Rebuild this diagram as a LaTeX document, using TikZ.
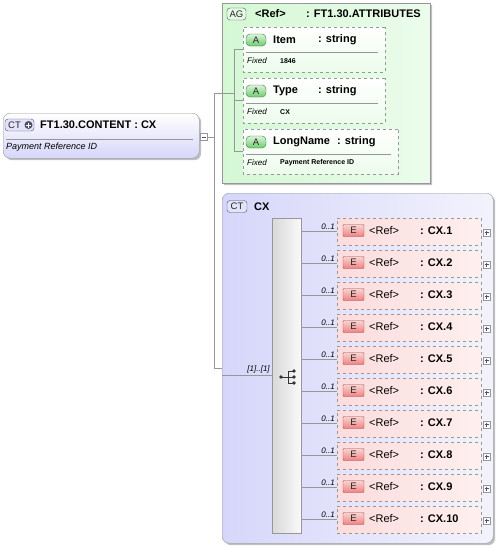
\documentclass[tikz,border=0pt]{standalone}
\usepackage{fontspec}
\setmainfont{Liberation Sans}
\usetikzlibrary{shapes.misc,shadows,calc}

\definecolor{lineclr}{RGB}{150,150,155}
\definecolor{ctclr}{RGB}{214,214,250}
\definecolor{agclr}{RGB}{212,248,212}
\definecolor{eclr}{RGB}{252,220,220}
\definecolor{ebadge}{RGB}{238,130,130}
\definecolor{abadge}{RGB}{110,205,110}
\definecolor{badgeln}{RGB}{80,80,100}

\tikzset{
	conn/.style={draw=lineclr, line width=0.6pt},
	boxshadow/.style={drop shadow={shadow xshift=2pt, shadow yshift=-2pt, fill=black, opacity=0.25}},
	mainbox/.style={draw=lineclr, rounded corners=7pt, top color=white, bottom color=ctclr, anchor=north west, inner sep=0pt, boxshadow},
	ctbox/.style={draw=lineclr, rounded corners=7pt, left color=ctclr, right color=ctclr!30, anchor=north west, inner sep=0pt, boxshadow},
	agbox/.style={chamfered rectangle, chamfered rectangle corners={north west,south west}, chamfered rectangle xsep=6pt, chamfered rectangle ysep=6pt, draw=lineclr, left color=agclr, right color=agclr!45, anchor=north west, inner sep=0pt, boxshadow},
	attrbox/.style={chamfered rectangle, chamfered rectangle corners={north west,south west}, chamfered rectangle xsep=5pt, chamfered rectangle ysep=5pt, draw=lineclr, dashed, top color=white, bottom color=agclr!45, anchor=north west, inner sep=0pt},
	elbox/.style={draw=lineclr, dashed, left color=eclr, right color=eclr!45, anchor=north west, inner sep=0pt},
	seqbar/.style={draw=lineclr, left color=gray!30, right color=gray!4, anchor=north west, inner sep=0pt},
	badge/.style={draw=badgeln, rounded corners=3pt, inner sep=0pt, minimum height=12pt, font=\fontsize{9.5}{10}\selectfont, text=black!85},
	abadge/.style={badge, draw={rgb,255:red,60;green,125;blue,60}, top color=abadge!25, bottom color=abadge, minimum width=20pt, rounded corners=4pt},
	ebadge/.style={badge, draw={rgb,255:red,165;green,75;blue,75}, top color=ebadge!35, bottom color=ebadge, minimum width=21pt, rounded corners=1pt},
	tbox/.style={draw=lineclr, fill=white, minimum size=7pt, inner sep=0pt},
	ttl/.style={anchor=west, inner sep=0pt, font=\fontsize{11}{12}\selectfont\bfseries},
	reftext/.style={anchor=west, inner sep=0pt, font=\fontsize{11}{12}\selectfont},
	desctext/.style={anchor=west, inner sep=0pt, font=\fontsize{9}{10}\selectfont\itshape},
	fixedtext/.style={anchor=west, inner sep=0pt, font=\fontsize{8}{9}\selectfont\itshape},
	valtext/.style={anchor=west, inner sep=0pt, font=\fontsize{7}{8}\selectfont\bfseries},
	occ/.style={anchor=south east, inner sep=2pt, font=\fontsize{8}{9}\selectfont\itshape},
}

\begin{document}
\begin{tikzpicture}[x=1pt,y=-1pt]
	\useasboundingbox (0,0) rectangle (498,549);
	
	% content element
	\node[mainbox, minimum width=196pt, minimum height=45pt] (content) at (3,113) {};
	\node[badge, fill=ctclr!70, minimum width=29pt] (contentct) at (19.5,125) {};
	\node[inner sep=0pt, font=\fontsize{9.5}{10}\selectfont, text=black!85] (contentctlbl) at (14.5,125) {CT};
	\node[circle, fill=badgeln, minimum size=8pt, inner sep=0pt] (contentplus) at (28.5,125) {};
	\draw[white, line width=1pt] ($(contentplus)+(-2.5,0)$) -- ($(contentplus)+(2.5,0)$) ($(contentplus)+(0,-2.5)$) -- ($(contentplus)+(0,2.5)$);
	\node[ttl] (contentname) at (40,125) {FT1.30.CONTENT : CX};
	\draw[lineclr] ($(content.north west)+(3,26)$) -- ($(content.north east)+(-6,26)$);
	\node[desctext] (contentdesc) at (6,147) {Payment Reference ID};
	\node[tbox] (contentminus) at (203.5,137) {};
	\draw[badgeln] ($(contentminus)+(-2,0)$) -- ($(contentminus)+(2,0)$);
	
	% attribute group
	\node[agbox, minimum width=208pt, minimum height=180pt] (attrs) at (222,3) {};
	\node[badge, fill=agclr!60, minimum width=19pt] (attrsag) at (236.5,14) {AG};
	\node[ttl] (attrsref) at (255,14) {<Ref>};
	\node[ttl] (attrsname) at (306,14) {: FT1.30.ATTRIBUTES};
	\foreach \aname/\ay/\aw/\ax/\aval [count=\i] in {Item/27/142/318/1846, Type/78/142/318/CX, LongName/129/155/337/Payment Reference ID}
	{
		\node[attrbox, minimum width=\aw pt, minimum height=45pt] (attr\i) at (243,\ay) {};
		\node[abadge] (attr\i a) at (256,\ay+13) {A};
		\node[ttl] (attr\i name) at (273,\ay+13) {\aname};
		\node[ttl] (attr\i type) at (\ax,\ay+13) {: string};
		\draw[lineclr] (246,\ay+25) -- (\aw+236,\ay+25);
		\node[fixedtext] (attr\i fixed) at (247,\ay+34) {Fixed};
		\node[valtext] (attr\i val) at (280,\ay+34) {\aval};
	}
	
	% complex type
	\node[ctbox, minimum width=271pt, minimum height=350pt] (ctcx) at (222,193) {};
	\node[badge, fill=ctclr!70, minimum width=20pt] (ctcxct) at (237,206.5) {CT};
	\node[ttl] (ctcxname) at (254,206.5) {CX};
	
	% sequence
	\node[seqbar, minimum width=29pt, minimum height=315pt] (seq) at (272,218) {};
	\fill[black!80] (281,377) circle[radius=1.8] (294,371) circle[radius=1.8] (294,377) circle[radius=1.8] (294,383) circle[radius=1.8];
	\draw[black!80, line width=0.8pt] (281,377) -- (288,377) (288,371) -- (288,383) (288,371) -- (294,371) (288,383) -- (294,383) (288,377) -- (294,377);
	
	% elements
	\foreach \i in {1,...,10}
	{
		\node[elbox, minimum width=144pt, minimum height=27pt] (el\i) at (337,186+32*\i) {};
		\node[ebadge] (el\i e) at (353.5,198.5+32*\i) {E};
		\node[reftext] (el\i ref) at (369,198.5+32*\i) {<Ref>};
		\node[ttl] (el\i name) at (420,198.5+32*\i) {: CX.\i};
		\node[tbox] (el\i plus) at (486.5,200.5+32*\i) {};
		\draw[badgeln] ($(el\i plus)+(-2,0)$) -- ($(el\i plus)+(2,0)$) ($(el\i plus)+(0,-2)$) -- ($(el\i plus)+(0,2)$);
		\draw[conn] (seq.east |- el\i.west) -- node[occ, pos=1] (el\i occ) {0..1} (el\i.west);
	}
	
	% connectors
	\coordinate (fork) at (214,137);
	\coordinate (attrfork) at (234,94);
	\draw[conn] (contentminus.east) -- (fork);
	\draw[conn] (fork |- attrs.west) -- (fork |- ctcx.west);
	\draw[conn] (fork |- attrs.west) -- (attrfork |- attrs.west);
	\draw[conn] (attrfork |- attr1.west) -- (attrfork |- attr3.west);
	\foreach \i in {1,2,3}
		\draw[conn] (attrfork |- attr\i.west) -- (attr\i.west);
	\draw[conn] (fork |- ctcx.west) -- (ctcx.west);
	\draw[conn] (ctcx.west |- seq.west) -- node[occ, pos=1] (seqocc) {[1]..[1]} (seq.west);
\end{tikzpicture}
\end{document}
